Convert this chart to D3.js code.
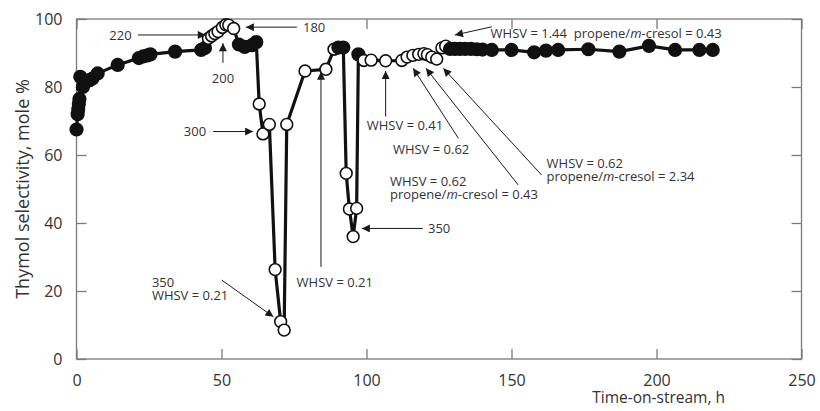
<!DOCTYPE html>
<html>
<head>
<meta charset="utf-8">
<script src="https://cdn.jsdelivr.net/npm/d3@7"></script>
<style>
  body { margin: 0; background: #fff; }
  text { font-family: "Open Sans", sans-serif; fill: #333; white-space: pre; }
</style>
</head>
<body>
<div id="container"></div>
<script>
var width = 820;
var height = 411;
var margin = {left: 76.5, right: 18.5, top: 19, bottom: 52};

// time on stream (h)
var hours = [0, 0.4, 0.6, 0.8, 1.0, 1.3, 2.2, 3.2, 4.5, 5.5, 7.3, 14.2, 21.5, 23, 24.5, 25.5, 34, 43, 44.3,
    45.5, 46.6, 47.7, 48.8, 50.3, 51.5, 52.5, 54.2,
    56, 58, 60.5, 62,
    63, 64.3, 66.5, 68.5, 70.4, 71.6, 72.5, 78.8, 86, 88.8,
    90.3, 92,
    93, 94.1, 95.4, 96.6,
    97.2,
    99.1, 101.6, 106.6, 112.2, 114, 116, 118, 119.8, 121, 122.5, 124.2, 126, 127.3,
    128.8, 130.5, 132.2, 134, 136, 138, 140, 143.2, 150, 157.8, 161.9, 166.1, 176.5, 187.2, 197.4, 206.4, 214.8, 219.4];

// thymol selectivity (mole %)
var selectivity = [67.5, 72, 73.5, 75, 76.5, 83, 80, 81.5, 82, 82.5, 84, 86.5, 88.5, 89, 89.3, 89.6, 90.4, 90.9, 91.5,
    94.3, 95, 95.7, 96.3, 97.5, 98.3, 98.2, 97.2,
    92.5, 91.8, 92.3, 93.2,
    75, 66.2, 69, 26.3, 11, 8.5, 69, 84.7, 85.2, 91.1,
    91.6, 91.6,
    54.6, 44.1, 36, 44.3,
    89.6,
    87.8, 87.9, 87.7, 87.8, 88.8, 89.3, 89.6, 89.8, 89.5, 88.8, 88.2, 91.5, 92,
    91.2, 91.2, 91.2, 91.2, 91.2, 91.1, 91, 90.9, 90.9, 90.2, 90.7, 90.9, 91.1, 90.4, 92.1, 90.9, 90.9, 90.9];

// 1 = open marker, 0 = filled marker
var openMarker = [0, 0, 0, 0, 0, 0, 0, 0, 0, 0, 0, 0, 0, 0, 0, 0, 0, 0, 0,
    1, 1, 1, 1, 1, 1, 1, 1,
    0, 0, 0, 0,
    1, 1, 1, 1, 1, 1, 1, 1, 1, 1,
    0, 0,
    1, 1, 1, 1,
    0,
    1, 1, 1, 1, 1, 1, 1, 1, 1, 1, 1, 1, 1,
    0, 0, 0, 0, 0, 0, 0, 0, 0, 0, 0, 0, 0, 0, 0, 0, 0, 0];

var xTicks = [0, 50, 100, 150, 200, 250];
var yTicks = [0, 20, 40, 60, 80, 100];

// annotation arrows: [x1, y1] -> tip [x2, y2], in data units
var arrows = [
    [21.2, 95.3, 44.6, 95.3],
    [50.5, 87.1, 50.5, 92.9],
    [76, 97.6, 58.4, 97.6],
    [47.1, 66.9, 60.9, 66.9],
    [50.1, 23.2, 67.9, 12.4],
    [84.3, 27.1, 84.3, 84.5],
    [106.6, 71.3, 106.6, 84.7],
    [131.7, 64.9, 116.1, 85.5],
    [152.3, 51.2, 120.5, 85.5],
    [160.4, 54.1, 126.5, 85.5],
    [143.2, 97.7, 130.5, 95.3],
    [119.4, 38.4, 98.4, 38.4]
];

// annotation labels: text (\n = new line, |m| = italic), x, y of first line (data units), anchor
var labels = [
    ["220", 19, 95.3, "end"],
    ["200", 50.5, 82.6, "middle"],
    ["180", 78.1, 97.6, "start"],
    ["300", 44.7, 66.8, "end"],
    ["350\nWHSV = 0.21", 26, 22.6, "start"],
    ["WHSV = 0.21", 75.9, 22.4, "start"],
    ["WHSV = 0.41", 100.1, 68.8, "start"],
    ["WHSV = 0.62", 109.1, 61.5, "start"],
    ["WHSV = 0.62\npropene/|m|-cresol = 0.43", 108.1, 52.1, "start"],
    ["WHSV = 0.62\npropene/|m|-cresol = 2.34", 162.1, 57.6, "start"],
    ["WHSV = 1.44  propene/|m|-cresol = 0.43", 142.8, 95.8, "start"],
    ["350", 121.2, 38.4, "start"]
];

var data = hours.map(function(h, i){
    return {x: h, y: selectivity[i], open: openMarker[i]};
});

var svg = d3.select('#container').append('svg').attr('width', width).attr('height', height);

var xScale = d3.scaleLinear().domain([0, 250]).range([margin.left, width - margin.right]);
var yScale = d3.scaleLinear().domain([0, 100]).range([height - margin.bottom, margin.top]);

var axisColor = '#7a7a7a';

svg.append('defs').append('marker')
    .attr('id', 'arrow')
    .attr('viewBox', '0 0 10 10')
    .attr('refX', 10).attr('refY', 5)
    .attr('markerWidth', 10).attr('markerHeight', 8)
    .attr('markerUnits', 'userSpaceOnUse')
    .attr('orient', 'auto')
    .append('path')
    .attr('d', 'M0,0 L10,5 L0,10 z')
    .attr('fill', '#1a1a1a');

// frame
svg.append('rect')
    .attr('x', xScale(0)).attr('y', yScale(100))
    .attr('width', xScale(250) - xScale(0)).attr('height', yScale(0) - yScale(100))
    .attr('fill', 'none').attr('stroke', axisColor).attr('stroke-width', 1.3);

var tickLen = 10;
var xAxisBottom = d3.axisBottom(xScale).tickValues(xTicks).tickSizeInner(-tickLen).tickSizeOuter(0).tickPadding(16);
var xAxisTop = d3.axisTop(xScale).tickValues(xTicks).tickSizeInner(-tickLen).tickSizeOuter(0).tickFormat('');
var yAxisLeft = d3.axisLeft(yScale).tickValues(yTicks).tickSizeInner(-tickLen).tickSizeOuter(0).tickPadding(14);
var yAxisRight = d3.axisRight(yScale).tickValues(yTicks).tickSizeInner(-tickLen).tickSizeOuter(0).tickFormat('');

function styleAxis(g){
    g.select('.domain').remove();
    g.selectAll('.tick line').attr('stroke', axisColor).attr('stroke-width', 1.3);
    g.selectAll('.tick text').attr('font-size', '16px').attr('fill', '#333').attr('font-family', '"Open Sans", sans-serif');
}

svg.append('g').attr('transform', 'translate(0,' + yScale(0) + ')').call(xAxisBottom).call(styleAxis);
svg.append('g').attr('transform', 'translate(0,' + yScale(100) + ')').call(xAxisTop).call(styleAxis);
svg.append('g').attr('transform', 'translate(' + xScale(0) + ',0)').call(yAxisLeft).call(styleAxis);
svg.append('g').attr('transform', 'translate(' + xScale(250) + ',0)').call(yAxisRight).call(styleAxis);

svg.append('text')
    .attr('x', 725).attr('y', 403)
    .attr('text-anchor', 'end')
    .attr('font-size', '15.5px')
    .text('Time-on-stream, h');

svg.append('text')
    .attr('transform', 'translate(29,' + ((yScale(0) + yScale(100)) / 2) + ') rotate(-90)')
    .attr('text-anchor', 'middle')
    .attr('font-size', '18px')
    .text('Thymol selectivity, mole %');

// data line
var line = d3.line().x(function(d){ return xScale(d.x); }).y(function(d){ return yScale(d.y); });
svg.append('path')
    .datum(data)
    .attr('d', line)
    .attr('fill', 'none')
    .attr('stroke', '#111')
    .attr('stroke-width', 3.2)
    .attr('stroke-linejoin', 'round');

svg.append('g').selectAll('circle')
    .data(data)
    .enter().append('circle')
    .attr('cx', function(d){ return xScale(d.x); })
    .attr('cy', function(d){ return yScale(d.y); })
    .attr('r', function(d){ return d.open ? 5.9 : 6.3; })
    .attr('fill', function(d){ return d.open ? '#fff' : '#111'; })
    .attr('stroke', '#111')
    .attr('stroke-width', 1.6);

// annotations
svg.append('g').selectAll('line')
    .data(arrows)
    .enter().append('line')
    .attr('x1', function(d){ return xScale(d[0]); })
    .attr('y1', function(d){ return yScale(d[1]); })
    .attr('x2', function(d){ return xScale(d[2]); })
    .attr('y2', function(d){ return yScale(d[3]); })
    .attr('stroke', '#1a1a1a')
    .attr('stroke-width', 1)
    .attr('marker-end', 'url(#arrow)');

var notes = svg.append('g').selectAll('text')
    .data(labels)
    .enter().append('text')
    .attr('y', function(d){ return yScale(d[2]); })
    .attr('dy', '0.35em')
    .attr('text-anchor', function(d){ return d[3]; })
    .attr('font-size', '13px');

// one tspan row per line; |m| parts set in italic
notes.each(function(d){
    var el = d3.select(this);
    d[0].split('\n').forEach(function(row, r){
        row.split('|').forEach(function(part, i){
            var t = el.append('tspan')
                .attr('font-style', i % 2 ? 'italic' : 'normal')
                .text(part);
            if (i === 0) t.attr('x', xScale(d[1])).attr('dy', r === 0 ? '0.35em' : 13);
        });
    });
});
notes.attr('dy', null);
</script>
</body>
</html>
